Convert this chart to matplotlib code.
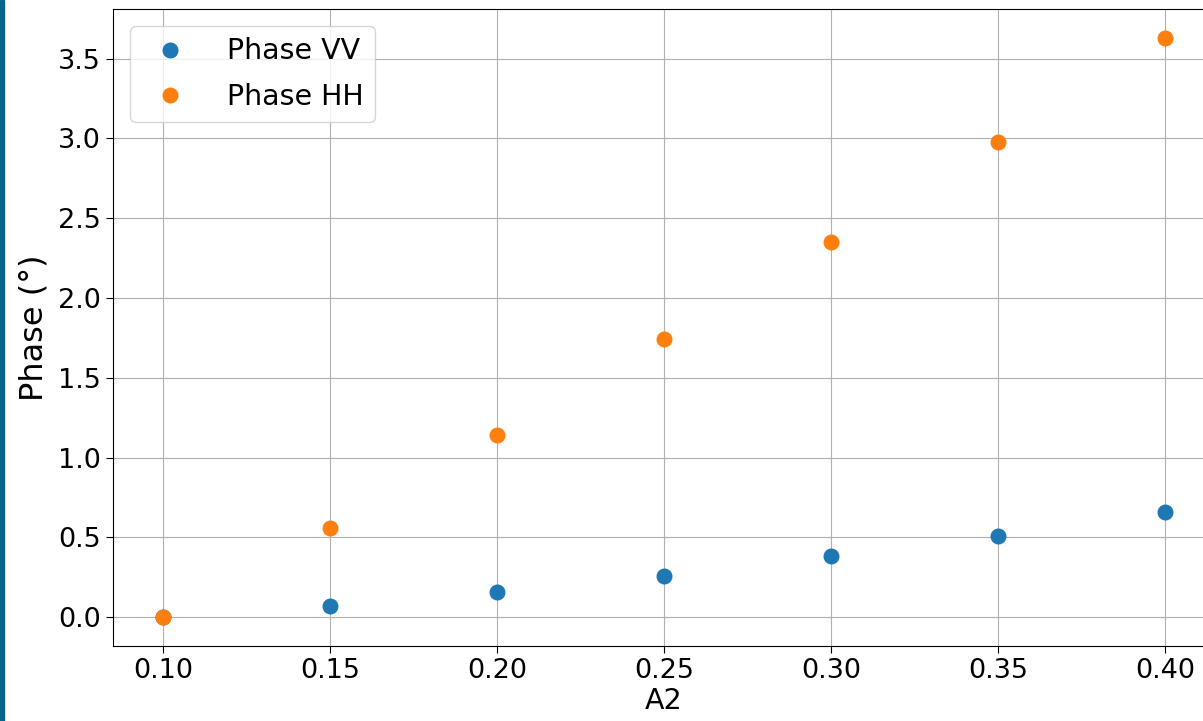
import matplotlib
matplotlib.use('Agg')
import matplotlib.pyplot as plt
from matplotlib.patches import Rectangle

A2 = [0.10, 0.15, 0.20, 0.25, 0.30, 0.35, 0.40]
PHASE_VV = [0.0, 0.07, 0.16, 0.26, 0.38, 0.51, 0.66]
PHASE_HH = [0.0, 0.56, 1.14, 1.74, 2.35, 2.98, 3.63]

W, H = 1203, 721
fig = plt.figure(figsize=(W / 100, H / 100), dpi=100)

# axes runs past the right edge, like the cropped original
ax = fig.add_axes([113 / W, (H - 646) / H, (1215 - 113) / W, (646 - 9) / H])

ax.plot(A2, PHASE_VV, 'o', color='#1f77b4', markersize=10.5, label='Phase VV')
ax.plot(A2, PHASE_HH, 'o', color='#ff7f0e', markersize=10.5, label='Phase HH')

ax.set_xticks(A2)
ax.set_xticklabels(['{:.2f}'.format(v) for v in A2])
ax.tick_params(labelsize=19.5, length=5)
ax.set_xlabel('A2', fontsize=20.5, labelpad=2)
ax.set_ylabel('Phase (°)', fontsize=23, labelpad=6)
ax.grid(True)
ax.legend(loc='upper left', fontsize=20.5, handletextpad=1.0, labelspacing=0.6,
          borderaxespad=0.6)

# dark blue strip on the left edge
fig.patches.append(Rectangle((0, 0), 4 / W, 1, transform=fig.transFigure,
                             color='#05668d', zorder=10))

fig.savefig('out.png', dpi=100)
